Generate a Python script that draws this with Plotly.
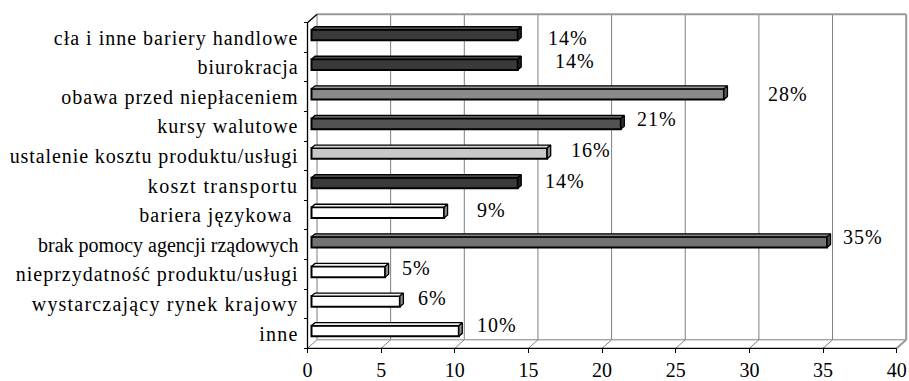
import plotly.graph_objects as go

# ---- data -------------------------------------------------------------
categories = [
    "cła i inne bariery handlowe",
    "biurokracja",
    "obawa przed niepłaceniem",
    "kursy walutowe",
    "ustalenie kosztu produktu/usługi",
    "koszt transportu",
    "bariera językowa\u00a0",
    "brak pomocy agencji rządowych",
    "nieprzydatność produktu/usługi",
    "wystarczający rynek krajowy",
    "inne",
]
values = [14, 14, 28, 21, 16, 14, 9, 35, 5, 6, 10]
value_labels = [f"{v}%" for v in values]
x_ticks = [0, 5, 10, 15, 20, 25, 30, 35, 40]

# ---- styles -----------------------------------------------------------
FONT = "Liberation Serif"
front_colors = ["#3a3a3a", "#3a3a3a", "#8a8a8a", "#525252", "#c8c8c8", "#3a3a3a",
                "#ffffff", "#737373", "#ffffff", "#ffffff", "#ffffff"]
top_colors = ["#4a4a4a", "#4a4a4a", "#9a9a9a", "#626262", "#d8d8d8", "#4a4a4a",
              "#f2f2f2", "#858585", "#f2f2f2", "#f2f2f2", "#f2f2f2"]
side_colors = ["#1e1e1e", "#1e1e1e", "#5a5a5a", "#333333", "#888888", "#1e1e1e",
               "#8c8c8c", "#4a4a4a", "#8c8c8c", "#8c8c8c", "#8c8c8c"]
# letter spacing (px) of each category name
name_spacing = [1.0, 0.9, 1.0, 1.0, 0.9, 1.4, 1.0, 0.0, 1.0, 1.2, 1.2]
VALUE_SPACING = 1.0
# nudges (px) of the value labels from the bar ends
label_dx = [28, 35, 42, 14, 22, 25, 31, 14, 15, 16, 16]
label_dy = [3, -4, 0, -5, -3.5, -2, -2.5, -5, -4, -3.5, -6]

# ---- page / projection geometry (pixels) ------------------------------
W, H = 909, 381
PL, PR, PT, PB = 300, 909, 8, 358          # plot area
X0_FRONT, PX_X = 307.5, 14.73               # front plane: value 0 and px per unit
Y0_FRONT, PX_Y = 37.5, 29.6                 # front plane: first row centre, px per row
BAR_SHIFT = (4.0, -2.5)                     # front plane -> bar face
BACK_SHIFT = (9.5, -8.5)                    # front plane -> back wall
BAR_DEPTH = (3.5, -3.0)                     # bar face -> bar back
BAR_W = 0.36

x2_range = [(PL - X0_FRONT) / PX_X, (PR - X0_FRONT) / PX_X]
y2_range = [(PB - Y0_FRONT) / PX_Y, (PT - Y0_FRONT) / PX_Y]
x_range = [r - BAR_SHIFT[0] / PX_X for r in x2_range]
y_range = [r - BAR_SHIFT[1] / PX_Y for r in y2_range]

BX = BACK_SHIFT[0] / PX_X
BY = BACK_SHIFT[1] / PX_Y
DDX = BAR_DEPTH[0] / PX_X
DDY = BAR_DEPTH[1] / PX_Y

n = len(categories)
rows = list(range(n))
TOP_ROW, BOT_ROW = -0.5, n - 0.5


def spaced(text, px):
    if px <= 0:
        return text
    return f'<span style="letter-spacing:{px}px">{text}</span>'


fig = go.Figure()

# front faces of the bars
fig.add_trace(go.Bar(
    x=values, y=rows, orientation="h", width=BAR_W,
    marker=dict(color=front_colors, line=dict(color="black", width=2)),
    hoverinfo="skip", showlegend=False,
))

# top and side faces of the bars
for i, v in enumerate(values):
    top = i - BAR_W / 2
    bot = i + BAR_W / 2
    fig.add_trace(go.Scatter(
        x=[0, v, v + DDX, DDX, 0], y=[top, top, top + DDY, top + DDY, top],
        fill="toself", fillcolor=top_colors[i], mode="lines",
        line=dict(color="black", width=1.3), hoverinfo="skip", showlegend=False,
    ))
    fig.add_trace(go.Scatter(
        x=[v, v + DDX, v + DDX, v, v], y=[top, top + DDY, bot + DDY, bot, top],
        fill="toself", fillcolor=side_colors[i], mode="lines",
        line=dict(color="black", width=1.3), hoverinfo="skip", showlegend=False,
    ))

# carrier for the front-plane axes (category names and value ticks)
fig.add_trace(go.Scatter(
    x=values, y=categories, xaxis="x2", yaxis="y2", mode="markers",
    marker=dict(opacity=0), hoverinfo="skip", showlegend=False,
))

# value labels
for i, (v, t) in enumerate(zip(values, value_labels)):
    fig.add_annotation(
        x=v, y=i, xref="x", yref="y", text=spaced(t, VALUE_SPACING), showarrow=False,
        xanchor="left", yanchor="middle",
        xshift=label_dx[i], yshift=-label_dy[i],
        font=dict(family=FONT, size=20, color="black"),
    )

# walls, floor and axis lines
shapes = []
GRID = dict(color="#7f7f7f", width=1)
WALL = dict(color="#999999", width=2)
AXIS = dict(color="black", width=1.3)


def seg(x0, y0, x1, y1, line):
    shapes.append(dict(type="line", xref="x2", yref="y2", x0=x0, y0=y0,
                       x1=x1, y1=y1, line=line, layer="below"))


for t in x_ticks[1:-1]:
    seg(t + BX, BOT_ROW + BY, t + BX, TOP_ROW + BY, GRID)
for t in x_ticks:
    seg(t, BOT_ROW, t + BX, BOT_ROW + BY, GRID)
seg(BX, BOT_ROW + BY, BX, TOP_ROW + BY, GRID)
seg(BX, BOT_ROW + BY, x_ticks[-1] + BX, BOT_ROW + BY, GRID)
seg(BX, TOP_ROW + BY, x_ticks[-1] + BX, TOP_ROW + BY, WALL)
seg(x_ticks[-1] + BX, TOP_ROW + BY, x_ticks[-1] + BX, BOT_ROW + BY, WALL)
seg(x_ticks[-1], BOT_ROW, x_ticks[-1] + BX, BOT_ROW + BY, WALL)
seg(0, TOP_ROW, BX, TOP_ROW + BY, AXIS)
seg(0, TOP_ROW, 0, BOT_ROW, AXIS)
seg(0, BOT_ROW, x_ticks[-1], BOT_ROW, AXIS)

plot_w, plot_h = PR - PL, PB - PT
front_bottom_px = Y0_FRONT + PX_Y * BOT_ROW

fig.update_layout(
    width=W, height=H,
    margin=dict(l=PL, r=W - PR, t=PT, b=H - PB, pad=0),
    paper_bgcolor="white", plot_bgcolor="white",
    shapes=shapes,
    xaxis=dict(range=x_range, visible=False, fixedrange=True),
    yaxis=dict(range=y_range, visible=False, fixedrange=True),
    xaxis2=dict(
        overlaying="x", anchor="free", side="bottom",
        position=(PB - front_bottom_px) / plot_h,
        range=x2_range, tickmode="array", tickvals=x_ticks,
        ticks="outside", ticklen=4, tickwidth=1, tickcolor="black",
        showgrid=False, zeroline=False, showline=False,
        tickfont=dict(family=FONT, size=20, color="black"),
        fixedrange=True,
    ),
    yaxis2=dict(
        overlaying="y", anchor="free", side="left",
        position=(X0_FRONT - PL) / plot_w,
        type="category", categoryorder="array", categoryarray=categories,
        tickmode="array", tickvals=categories,
        ticktext=[spaced(c, s) for c, s in zip(categories, name_spacing)],
        range=y2_range, tickson="boundaries",
        ticks="outside", ticklen=4, tickwidth=1, tickcolor="black",
        ticklabelstandoff=9,
        showgrid=False, zeroline=False, showline=False,
        tickfont=dict(family=FONT, size=20, color="black"),
        fixedrange=True,
    ),
)

fig.write_html("out.html")
